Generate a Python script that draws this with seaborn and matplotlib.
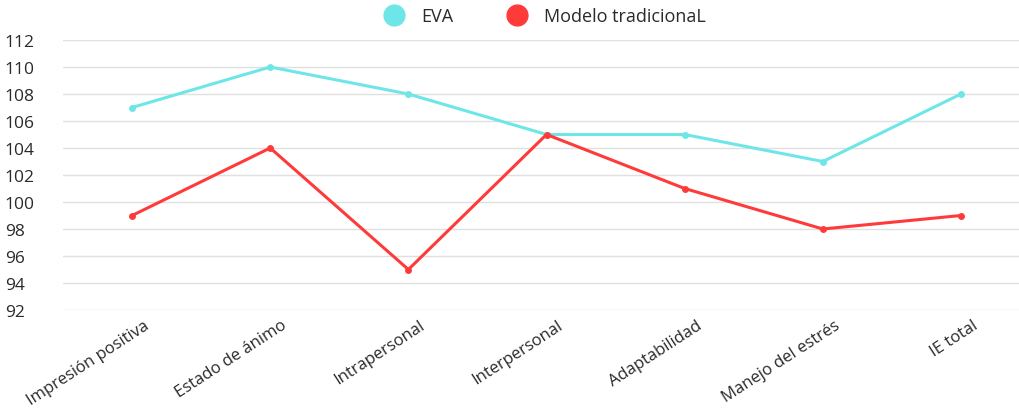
import pandas as pd
import seaborn as sns
import matplotlib.pyplot as plt
from matplotlib.lines import Line2D
from matplotlib.transforms import ScaledTranslation

categories = ['Impresión positiva', 'Estado de ánimo', 'Intrapersonal', 'Interpersonal',
              'Adaptabilidad', 'Manejo del estrés', 'IE total']
eva = [107, 110, 108, 105, 105, 103, 108]
tradicional = [99, 104, 95, 105, 101, 98, 99]
series_names = ['EVA', 'Modelo tradicionaL']
colors = ['#6ee6e8', '#ff3a3a']
y_ticks = list(range(92, 113, 2))

df = pd.DataFrame({
    'categoria': categories * 2,
    'valor': eva + tradicional,
    'serie': [series_names[0]] * len(categories) + [series_names[1]] * len(categories),
})

sns.set_theme(style='white')
plt.rcParams['font.family'] = ['Open Sans', 'DejaVu Sans']

fig = plt.figure(figsize=(10.19, 4.10), dpi=100)
ax = fig.add_axes([63 / 1019, 1 - 311 / 410, (1019 - 63) / 1019, 270 / 410])

sns.lineplot(data=df, x='categoria', y='valor', hue='serie', palette=colors,
             marker='o', markersize=5, markeredgewidth=0, linewidth=2.2,
             sort=False, legend=False, ax=ax)

ax.set_ylim(92, 112)
ax.set_yticks(y_ticks)
ax.set_xlim(-0.5, 6.42)
ax.yaxis.grid(True, color='#e0e0e0', linewidth=1)
ax.xaxis.grid(False)
for s in ax.spines.values():
    s.set_visible(False)
ax.tick_params(axis='y', length=0, labelsize=12.5, colors='#2a2a2a', pad=6)
ax.tick_params(axis='x', length=0, labelsize=12, colors='#2a2a2a', pad=5)
ax.set_xlabel('')
ax.set_ylabel('')
shift = ScaledTranslation(8 / 72, 0, fig.dpi_scale_trans)
for lab in ax.get_xticklabels():
    lab.set_rotation(33)
    lab.set_ha('right')
    lab.set_rotation_mode('anchor')
    lab.set_transform(lab.get_transform() + shift)
for lab in ax.get_yticklabels():
    lab.set_horizontalalignment('left')
    lab.set_x(-50 / 956)

handles = [Line2D([], [], linestyle='', marker='o', markersize=15, color=c) for c in colors]
fig.legend(handles, series_names, loc='center', bbox_to_anchor=(0.531, 0.958), ncol=2,
           frameon=False, fontsize=13, handletextpad=0.5, columnspacing=2.5,
           labelcolor='#2a2a2a')

fig.savefig('out.png', dpi=100)
